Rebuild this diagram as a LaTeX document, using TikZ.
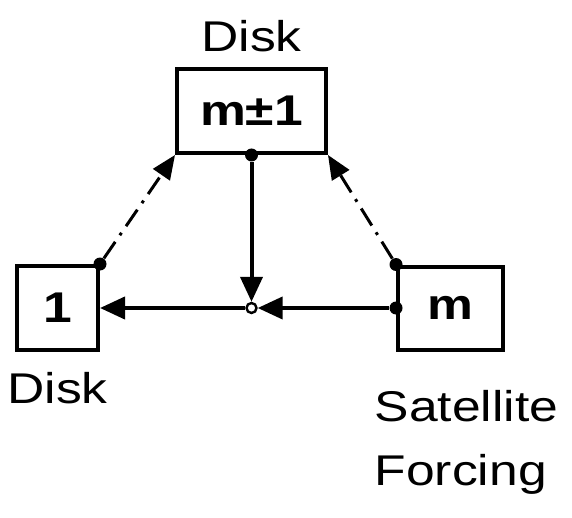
\documentclass[tikz,border=0pt]{standalone}
\usepackage{fontspec}
\setmainfont{Liberation Sans}[FakeStretch=1.2]
\usetikzlibrary{positioning,arrows.meta}

\begin{document}
\begin{tikzpicture}[x=0.5pt, y=-0.5pt,
    box/.style={draw, line width=2pt, inner sep=0pt, font=\fontsize{21.5}{26}\selectfont\bfseries},
    lbl/.style={inner sep=0pt, font=\fontsize{21.5}{32}\selectfont},
    dot/.style={circle, fill, inner sep=0pt, minimum size=6.5pt},
    flow/.style={line width=2pt, -{Triangle[length=12.5pt,width=11pt]}},
    weak/.style={line width=1.5pt, dash pattern=on 10pt off 4pt on 1.5pt off 4pt, -{Triangle[length=12pt,width=10pt]}}]
    \useasboundingbox (0,0) rectangle (572,518);
    % modes
    \node[box, minimum width=74.5pt, minimum height=42pt] (mpm) at (251.5,111) {m±1};
    \node[box, minimum width=40.5pt, minimum height=42pt] (one) at (57.5,308) {1};
    \node[box, minimum width=52.5pt, minimum height=41.5pt] (m) at (450.5,308) {m};
    \node[circle, draw, line width=1.2pt, fill=white, inner sep=0pt, minimum size=5pt] (sum) at (251.5,308) {};
    % labels
    \node[lbl, above=7.5pt of mpm] (toplbl) {Disk};
    \node[lbl, below=10pt of one] (onelbl) {Disk};
    \node[lbl, align=left, below=19pt of m, xshift=8pt] (mlbl) {Satellite\\Forcing};
    % dots
    \node[dot] (d1) at (mpm.south) {};
    \node[dot] (d2) at (one.north east) {};
    \node[dot] (d3) at (m.north west) {};
    \node[dot] (d4) at (m.west) {};
    % couplings
    \draw[flow] (d1) -- (sum);
    \draw[flow] (sum) -- (one);
    \draw[flow] (d4) -- (sum);
    \draw[weak] (d2) -- (mpm.south west);
    \draw[weak] (d3) -- (mpm.south east);
\end{tikzpicture}
\end{document}
